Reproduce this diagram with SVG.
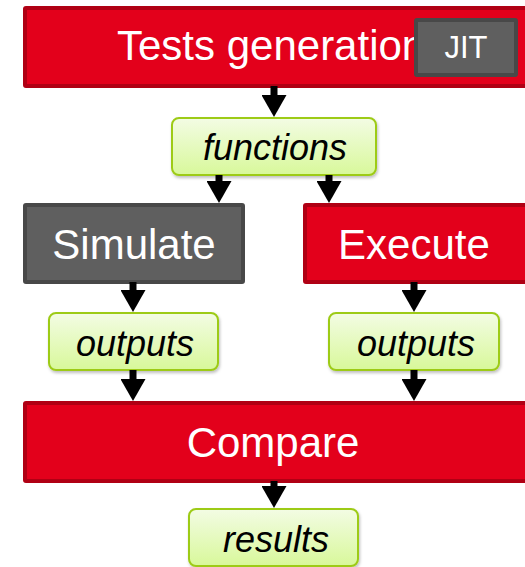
<svg xmlns="http://www.w3.org/2000/svg" width="525" height="567" viewBox="0 0 525 567">
<style>
.red{fill:#e3001b;stroke:#b00014;stroke-width:4}
.gray{fill:#5f5f5f;stroke:#484848;stroke-width:4}
.green{fill:url(#gg);stroke:#9dcb17;stroke-width:2}
.big{font-family:"Liberation Sans",Arial,sans-serif;font-size:42px;fill:#fff;text-anchor:middle}
.it{font-family:"Liberation Sans",Arial,sans-serif;font-size:36px;font-style:italic;fill:#000;text-anchor:middle}
.conn line{stroke:#000;stroke-width:7;marker-end:url(#ah)}
</style>
<defs>
<linearGradient id="gg" x1="0" y1="0" x2="0" y2="1">
<stop offset="0" stop-color="#f3fce4"/>
<stop offset="1" stop-color="#d8f89a"/>
</linearGradient>
<filter id="sh" x="-10%" y="-10%" width="120%" height="130%">
<feDropShadow dx="1" dy="2" stdDeviation="1.5" flood-color="#000" flood-opacity="0.25"/>
</filter>
<marker id="ah" viewBox="0 0 22 25" markerWidth="22" markerHeight="25" refX="2" refY="12.5" orient="auto" markerUnits="userSpaceOnUse">
<path d="M0,0 L22,12.5 L0,25 z" fill="#000"/>
</marker>
</defs>
<g id="tests">
<rect class="red" x="25" y="8" width="510" height="78" rx="1"/>
<text class="big" x="117" y="60" text-anchor="start" style="text-anchor:start">Tests generation</text>
</g>
<g id="jit">
<rect class="gray" x="416" y="20" width="100" height="55" rx="1"/>
<text class="big" x="466" y="58" style="font-size:31px">JIT</text>
</g>
<g id="functions">
<rect class="green" x="172" y="118" width="204" height="57" rx="7" filter="url(#sh)"/>
<text class="it" x="275" y="160">functions</text>
</g>
<g id="simulate">
<rect class="gray" x="25" y="205" width="218" height="77" rx="1"/>
<text class="big" x="134" y="259">Simulate</text>
</g>
<g id="execute">
<rect class="red" x="305" y="205" width="230" height="77" rx="1"/>
<text class="big" x="414" y="259">Execute</text>
</g>
<g id="outputs1">
<rect class="green" x="49" y="313" width="169" height="57" rx="7" filter="url(#sh)"/>
<text class="it" x="135" y="356">outputs</text>
</g>
<g id="outputs2">
<rect class="green" x="329" y="313" width="170" height="57" rx="7" filter="url(#sh)"/>
<text class="it" x="416" y="356">outputs</text>
</g>
<g id="compare">
<rect class="red" x="25" y="403" width="510" height="78" rx="1"/>
<text class="big" x="273" y="457">Compare</text>
</g>
<g id="results">
<rect class="green" x="189" y="509" width="169" height="57" rx="7" filter="url(#sh)"/>
<text class="it" x="276" y="552">results</text>
</g>
<g id="connectors" class="conn">
<line x1="274" y1="86" x2="274" y2="97"/>
<line x1="219" y1="175" x2="219" y2="183"/>
<line x1="329" y1="175" x2="329" y2="183"/>
<line x1="133" y1="282" x2="133" y2="292"/>
<line x1="414" y1="282" x2="414" y2="292"/>
<line x1="133" y1="370" x2="133" y2="381"/>
<line x1="414" y1="370" x2="414" y2="381"/>
<line x1="274" y1="481" x2="274" y2="488"/>
</g>
</svg>
